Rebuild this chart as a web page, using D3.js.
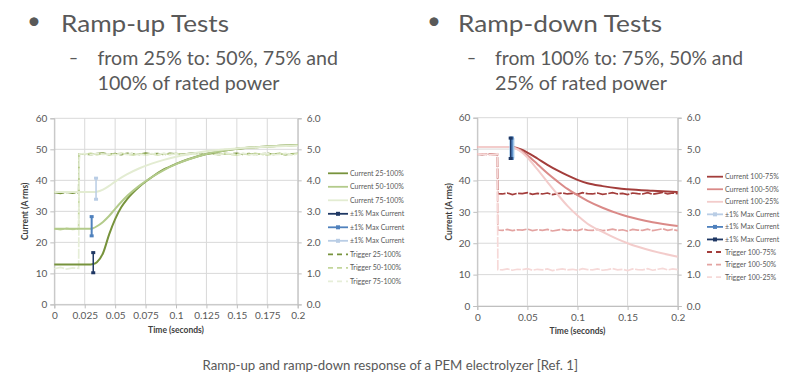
<!DOCTYPE html>
<html><head><meta charset="utf-8">
<script src="https://cdn.jsdelivr.net/npm/d3@7"></script>
<style>body{margin:0;background:#fff;} svg{display:block;font-family:Lato,"Open Sans",sans-serif;}</style>
</head><body><svg id="c" width="800" height="380"></svg>
<script>
// ---------- DATA ----------
const yTicks = [0, 10, 20, 30, 40, 50, 60];
const y2Ticks = [0, 1, 2, 3, 4, 5, 6];
const y2Labels = ["0.0", "1.0", "2.0", "3.0", "4.0", "5.0", "6.0"];
const upXTicks = [0, 0.025, 0.05, 0.075, 0.1, 0.125, 0.15, 0.175, 0.2];
const upXLabels = ["0", "0.025", "0.05", "0.075", "0.1", "0.125", "0.15", "0.175", "0.2"];
const downXTicks = [0, 0.05, 0.1, 0.15, 0.2];
const downXLabels = ["0", "0.05", "0.1", "0.15", "0.2"];

// Ramp-up currents (A rms)
const upCurTime = [0, 0.01, 0.02, 0.03, 0.032, 0.035, 0.04, 0.045, 0.05, 0.055, 0.06, 0.07, 0.08, 0.09, 0.1, 0.11, 0.125, 0.14, 0.15, 0.175, 0.2];
const upCur25 = [12.9, 12.9, 12.9, 12.9, 13.0, 13.6, 16.5, 22.5, 27.5, 31.3, 34.0, 38.0, 41.0, 43.5, 45.3, 46.8, 48.5, 49.6, 50.2, 50.9, 51.4];
const upCur50 = [24.4, 24.4, 24.4, 24.4, 24.6, 25.2, 26.6, 28.5, 30.8, 33.0, 35.0, 38.3, 41.0, 43.3, 45.2, 46.7, 48.5, 49.6, 50.2, 50.9, 51.4];
const upCur75 = [36.2, 36.2, 36.2, 36.2, 36.2, 36.3, 37.0, 38.2, 39.6, 40.9, 42.0, 43.9, 45.4, 46.6, 47.6, 48.4, 49.4, 50.0, 50.3, 50.8, 51.2];

// Trigger signals (secondary axis, V)
const trigTime = [0, 0.005, 0.01, 0.015, 0.02, 0.0205, 0.025, 0.03, 0.035, 0.04, 0.045, 0.05, 0.055, 0.06, 0.065, 0.07, 0.075, 0.08, 0.085, 0.09, 0.095, 0.1, 0.105, 0.11, 0.115, 0.12, 0.125, 0.13, 0.135, 0.14, 0.145, 0.15, 0.155, 0.16, 0.165, 0.17, 0.175, 0.18, 0.185, 0.19, 0.195, 0.2];
const upTrig25 = [1.15, 1.19, 1.14, 1.18, 1.16, 4.85,
  4.86, 4.82, 4.87, 4.84, 4.85, 4.82, 4.86, 4.83, 4.87, 4.84, 4.82, 4.86, 4.84, 4.87, 4.83, 4.85, 4.82, 4.86,
  4.84, 4.83, 4.87, 4.84, 4.82, 4.86, 4.85, 4.83, 4.87, 4.84, 4.82, 4.85, 4.86, 4.83, 4.84, 4.87, 4.82, 4.85];
const upTrig50 = [2.44, 2.41, 2.45, 2.42, 2.44, 4.85,
  4.84, 4.87, 4.83, 4.86, 4.82, 4.85, 4.87, 4.84, 4.82, 4.86, 4.83, 4.85, 4.82, 4.86, 4.84, 4.87, 4.83, 4.84,
  4.86, 4.82, 4.85, 4.87, 4.83, 4.86, 4.84, 4.82, 4.86, 4.83, 4.87, 4.84, 4.82, 4.85, 4.87, 4.83, 4.84, 4.86];
const upTrig75 = [3.61, 3.58, 3.62, 3.59, 3.61, 4.85,
  4.85, 4.83, 4.86, 4.88, 4.84, 4.86, 4.83, 4.87, 4.85, 4.84, 4.88, 4.85, 4.86, 4.83, 4.87, 4.85, 4.84, 4.86,
  4.88, 4.84, 4.85, 4.87, 4.83, 4.86, 4.85, 4.87, 4.84, 4.86, 4.83, 4.85, 4.87, 4.84, 4.86, 4.83, 4.85, 4.86];

// ±1% max current bars (ramp-up)
const upErrTime = [0.032, 0.0307, 0.0343];
const upErrLow = [10.2, 22.1, 33.9];
const upErrHigh = [16.7, 28.3, 40.7];

// Ramp-down currents (A rms)
const downCurTime = [0, 0.01, 0.02, 0.03, 0.034, 0.04, 0.045, 0.05, 0.06, 0.07, 0.08, 0.09, 0.1, 0.11, 0.125, 0.14, 0.15, 0.175, 0.2];
const downCur75 = [50.7, 50.7, 50.7, 50.7, 50.7, 50.3, 49.7, 48.9, 47.0, 45.0, 43.2, 41.6, 40.2, 39.1, 38.2, 37.5, 37.2, 36.7, 36.3];
const downCur50 = [50.7, 50.7, 50.7, 50.7, 50.7, 50.1, 49.2, 48.0, 45.2, 42.3, 39.7, 37.3, 35.3, 33.5, 31.3, 29.5, 28.5, 26.7, 25.5];
const downCur25 = [50.7, 50.7, 50.7, 50.7, 50.7, 49.9, 48.8, 47.3, 43.5, 39.5, 35.6, 31.9, 28.8, 26.2, 23.6, 21.3, 20.0, 17.5, 15.7];

const downTrig75 = [4.84, 4.82, 4.85, 4.83, 4.84, 3.58,
  3.57, 3.60, 3.55, 3.59, 3.58, 3.61, 3.56, 3.59, 3.57, 3.60, 3.55, 3.58, 3.60, 3.57, 3.59, 3.56, 3.61, 3.58,
  3.57, 3.60, 3.56, 3.58, 3.61, 3.57, 3.59, 3.55, 3.60, 3.58, 3.57, 3.61, 3.56, 3.59, 3.62, 3.57, 3.60, 3.58];
const downTrig50 = [4.83, 4.85, 4.82, 4.84, 4.83, 2.42,
  2.41, 2.44, 2.40, 2.43, 2.42, 2.45, 2.40, 2.43, 2.41, 2.44, 2.39, 2.42, 2.44, 2.41, 2.43, 2.40, 2.45, 2.42,
  2.41, 2.44, 2.40, 2.42, 2.45, 2.41, 2.43, 2.39, 2.44, 2.42, 2.41, 2.45, 2.40, 2.43, 2.46, 2.41, 2.44, 2.40];
const downTrig25 = [4.85, 4.83, 4.84, 4.82, 4.85, 1.16,
  1.15, 1.18, 1.14, 1.17, 1.16, 1.19, 1.14, 1.17, 1.15, 1.18, 1.13, 1.16, 1.18, 1.15, 1.17, 1.14, 1.19, 1.16,
  1.15, 1.18, 1.14, 1.16, 1.19, 1.15, 1.17, 1.13, 1.18, 1.16, 1.15, 1.19, 1.14, 1.17, 1.20, 1.15, 1.18, 1.16];

// ±1% max current bars (ramp-down)
const downErrTime = [0.0345, 0.0342, 0.0333];
const downErrLow = [47.0, 47.0, 47.0];
const downErrHigh = [53.5, 53.5, 53.5];

const upLegend = ["Current 25-100%", "Current 50-100%", "Current 75-100%", "±1% Max Current", "±1% Max Current", "±1% Max Current", "Trigger 25-100%", "Trigger 50-100%", "Trigger 75-100%"];
const downLegend = ["Current 100-75%", "Current 100-50%", "Current 100-25%", "±1% Max Current", "±1% Max Current", "±1% Max Current", "Trigger 100-75%", "Trigger 100-50%", "Trigger 100-25%"];

// ---------- DRAWING ----------
const svg = d3.select("#c");
const TXT = "#595959";

function txt(x, y, s, size, len, opts = {}) {
  const t = svg.append("text").attr("x", x).attr("y", y).attr("font-size", size)
    .attr("fill", opts.fill || TXT).text(s);
  if (len) t.attr("textLength", len).attr("lengthAdjust", "spacingAndGlyphs");
  return t;
}

// Slide headings
txt(27, 29, "•", 24);
txt(61, 32, "Ramp-up Tests", 24, 168);
txt(69, 64, "–", 19, 9);
txt(97.5, 65, "from 25% to: 50%, 75% and", 19, 240.5);
txt(97.5, 90, "100% of rated power", 19, 182);
txt(427, 29, "•", 24);
txt(458, 32, "Ramp-down Tests", 24, 204);
txt(467, 64, "–", 19, 9);
txt(495, 65, "from 100% to: 75%, 50% and", 19, 248);
txt(495, 90, "25% of rated power", 19, 172);
txt(202.5, 370, "Ramp-up and ramp-down response of a PEM electrolyzer [Ref. 1]", 12.5, 375.5);

function drawChart(cfg) {
  const g = svg.append("g");
  const x = d3.scaleLinear().domain([0, 0.2]).range([cfg.x0, cfg.x1]);
  const y = d3.scaleLinear().domain([0, 60]).range([cfg.yb, cfg.yt]);
  const y2 = d3.scaleLinear().domain([0, 6]).range([cfg.yb, cfg.yt]);

  // grid
  g.append("g").selectAll("line").data(yTicks).join("line")
    .attr("x1", cfg.x0).attr("x2", cfg.x1).attr("y1", d => y(d)).attr("y2", d => y(d))
    .attr("stroke", "#d9d9d9").attr("stroke-width", 1);
  g.append("g").selectAll("line").data(cfg.xTicks).join("line")
    .attr("y1", cfg.yb).attr("y2", cfg.yt).attr("x1", d => x(d)).attr("x2", d => x(d))
    .attr("stroke", "#d9d9d9").attr("stroke-width", 1);

  function styleAxis(a) {
    a.selectAll("path.domain").attr("stroke", "#bfbfbf");
    a.selectAll(".tick line").attr("stroke", "#bfbfbf");
    a.selectAll("text").attr("fill", TXT).attr("font-size", 10).attr("font-family", "Lato, sans-serif");
  }
  const ax = g.append("g").attr("transform", `translate(0,${cfg.yb})`)
    .call(d3.axisBottom(x).tickValues(cfg.xTicks).tickFormat((d, i) => cfg.xLabels[i]).tickSizeOuter(0).tickSize(4).tickPadding(4));
  styleAxis(ax);
  const ayl = g.append("g").attr("transform", `translate(${cfg.x0},0)`)
    .call(d3.axisLeft(y).tickValues(yTicks).tickFormat(d => d).tickSizeOuter(0).tickSize(4).tickPadding(3));
  styleAxis(ayl);
  const ayr = g.append("g").attr("transform", `translate(${cfg.x1},0)`)
    .call(d3.axisRight(y2).tickValues(y2Ticks).tickFormat((d, i) => y2Labels[i]).tickSizeOuter(0).tickSize(4).tickPadding(5));
  styleAxis(ayr);

  // axis titles
  g.append("text").attr("transform", `translate(${cfg.ytx},${(cfg.yt + cfg.yb) / 2}) rotate(-90)`)
    .attr("text-anchor", "middle").attr("font-size", 8.5).attr("font-weight", "bold").attr("fill", "#404040")
    .text("Current (A rms)");
  g.append("text").attr("x", (cfg.x0 + cfg.x1) / 2).attr("y", cfg.xty)
    .attr("text-anchor", "middle").attr("font-size", 8.5).attr("font-weight", "bold").attr("fill", "#404040")
    .text("Time (seconds)");

  // triggers (secondary axis)
  const lineT = d3.line().x((d, i) => x(trigTime[i])).y(d => y2(d));
  cfg.trig.forEach((s, k) => {
    g.append("path").attr("d", lineT(s)).attr("fill", "none")
      .attr("stroke", cfg.trigColors[k]).attr("stroke-width", 1.7).attr("stroke-dasharray", "10,1.5");
  });
  // currents
  const lineC = d3.line().x((d, i) => x(cfg.curTime[i])).y(d => y(d)).curve(d3.curveMonotoneX);
  cfg.cur.forEach((s, k) => {
    g.append("path").attr("d", lineC(s)).attr("fill", "none")
      .attr("stroke", cfg.curColors[k]).attr("stroke-width", 2);
  });
  // error bars
  cfg.errT.forEach((t, k) => {
    const c = cfg.errColors[k];
    g.append("line").attr("x1", x(t)).attr("x2", x(t)).attr("y1", y(cfg.errLow[k])).attr("y2", y(cfg.errHigh[k]))
      .attr("stroke", c).attr("stroke-width", cfg.errWidth[k]);
    [cfg.errLow[k], cfg.errHigh[k]].forEach(v => {
      g.append("rect").attr("x", x(t) - 2).attr("y", y(v) - 1.5).attr("width", 4).attr("height", 3).attr("fill", c);
    });
  });

  // legend
  cfg.legend.forEach((lab, i) => {
    const ly = cfg.ly0 + i * cfg.ldy;
    const col = i < 3 ? cfg.curColors[i] : i < 6 ? cfg.legErrColors[i - 3] : cfg.trigColors[i - 6];
    const l = g.append("line").attr("x1", cfg.lx0).attr("x2", cfg.lx1).attr("y1", ly).attr("y2", ly)
      .attr("stroke", col).attr("stroke-width", 1.8);
    if (i >= 6) l.attr("stroke-dasharray", "5,4");
    if (i >= 3 && i < 6) {
      g.append("rect").attr("x", (cfg.lx0 + cfg.lx1) / 2 - 2).attr("y", ly - 2).attr("width", 4).attr("height", 4).attr("fill", col);
    }
    g.append("text").attr("x", cfg.lx1 + 2).attr("y", ly + 2.5).attr("font-size", 7).attr("fill", TXT).text(lab);
  });
}

drawChart({
  x0: 54.3, x1: 297.7, yb: 304.4, yt: 118.3, ytx: 28, xty: 333,
  xTicks: upXTicks, xLabels: upXLabels,
  curTime: upCurTime, cur: [upCur25, upCur50, upCur75],
  curColors: ["#77933c", "#b3cb8b", "#e3ecd2"],
  trig: [upTrig75, upTrig50, upTrig25].reverse().reverse(),
  trigColors: ["#77933c", "#c3d69b", "#e6eed8"],
  errT: upErrTime, errLow: upErrLow, errHigh: upErrHigh,
  errColors: ["#1f3864", "#4f81bd", "#b9cde5"], errWidth: [1.5, 2, 1.5],
  legErrColors: ["#1f3864", "#4f81bd", "#b9cde5"],
  legend: upLegend, lx0: 328, lx1: 348, ly0: 173.3, ldy: 13.5
});

drawChart({
  x0: 477.3, x1: 677.7, yb: 306, yt: 117.7, ytx: 452, xty: 334,
  xTicks: downXTicks, xLabels: downXLabels,
  curTime: downCurTime, cur: [downCur75, downCur50, downCur25],
  curColors: ["#a33d3b", "#da8a88", "#f3cccb"],
  trig: [downTrig75, downTrig50, downTrig25],
  trigColors: ["#a33d3b", "#e3a3a1", "#f6d9d8"],
  errT: downErrTime, errLow: downErrLow, errHigh: downErrHigh,
  errColors: ["#9dc3e6", "#4f81bd", "#1f3864"], errWidth: [5, 2.5, 1.3],
  legErrColors: ["#b9cde5", "#4f81bd", "#1f3864"],
  legend: downLegend, lx0: 707, lx1: 723, ly0: 176.7, ldy: 12.55
});
</script></body></html>
